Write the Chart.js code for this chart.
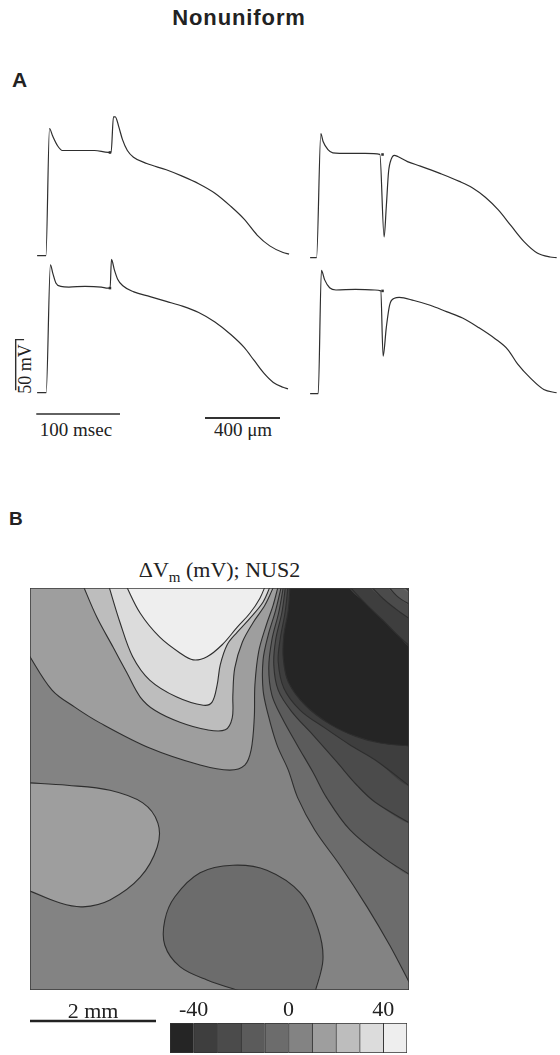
<!DOCTYPE html>
<html>
<head>
<meta charset="utf-8">
<title>Nonuniform</title>
<script src="https://cdn.jsdelivr.net/npm/chart.js@4.4.1/dist/chart.umd.min.js"></script>
<style>
    html, body { margin: 0; padding: 0; background: #fff; }
    body { width: 560px; height: 1055px; position: relative; overflow: hidden; }
    canvas { position: absolute; }
    .lbl { position: absolute; white-space: nowrap; color: #222; line-height: 1; }
    .serif { font-family: "Liberation Serif", "DejaVu Serif", serif; }
    .sans { font-family: "Liberation Sans", Arial, sans-serif; font-weight: bold; }
</style>
</head>
<body>
<div class="lbl sans" style="left:0;width:478px;text-align:center;top:7px;font-size:22px;letter-spacing:0.9px;">Nonuniform</div>
<div class="lbl sans" style="left:12px;top:69px;font-size:21px;">A</div>
<div class="lbl sans" style="left:9px;top:509px;font-size:19px;">B</div>

<div class="lbl serif" style="left:16px;width:120px;text-align:center;top:420px;font-size:19px;">100 msec</div>
<div class="lbl serif" style="left:183px;width:120px;text-align:center;top:420px;font-size:19px;">400 &mu;m</div>
<div style="position:absolute;left:205px;top:417px;width:75px;height:1.5px;background:#333;"></div>
<div class="lbl serif" style="left:-5px;width:60px;text-align:center;top:360px;font-size:18px;transform:rotate(-90deg);">50 mV</div>

<div class="lbl serif" style="left:30px;width:379px;text-align:center;top:559px;font-size:22px;line-height:22px;">&Delta;V<span style="font-size:15px;position:relative;top:5px;">m</span> (mV); NUS2</div>

<script>
// Panel A: membrane potential traces (time in msec, potential in mV)
const tlTime = [0, 10.5, 14.8, 18.6, 24.4, 30.2, 50, 68.6, 84.9, 88.4, 91.2, 93.4, 97.5, 102, 107.8, 115.1, 131, 154.3, 173.3, 193, 212.4, 231.4, 247.3, 262.8, 277.9, 293.8, 301];
const tlVolt = [-85, -85, 40.7, 33.2, 23.7, 19.0, 19.0, 19.0, 17.1, 17.1, 52.3, 52.3, 42.6, 29.7, 19.0, 12.4, 6.1, -0.1, -6.4, -13.9, -23.3, -36.3, -48.9, -64.6, -75.3, -81.9, -83.5];

const trTime = [0, 7.7, 12.8, 15.5, 21.3, 27.1, 46.5, 65.8, 83.3, 88.4, 91, 93.7, 96.9, 100.7, 104.7, 116.3, 131.7, 155, 178.3, 193.7, 209.3, 224.8, 240.2, 255.8, 271.3, 286.7, 294.5];
const trVolt = [-85, -85, 37.6, 29.8, 21.8, 18.7, 18.1, 18.1, 17.1, -64.5, -34.7, -0.1, 12.4, 16.2, 15.0, 10.0, 5.5, -1.7, -9.6, -15.9, -25.3, -37.8, -53.6, -69.3, -80.3, -84.3, -85];

const blTime = [0, 10.8, 15.9, 18.6, 22.4, 28.3, 38, 57.3, 76.7, 84.5, 87.2, 88.8, 92.2, 96.2, 102, 115.5, 134.9, 154.3, 173.6, 193, 212.4, 231.7, 247.3, 259, 270.6, 282.2, 293.8, 299.7];
const blVolt = [-85, -85, 41.4, 33.5, 23.5, 20.1, 19.4, 20.1, 19.4, 18.4, 18.4, 46.7, 36.6, 27.2, 21, 14.7, 10, 5.2, 0.5, -5.8, -15.2, -27.8, -40.3, -52.9, -65.5, -74.9, -79.6, -81.2];

const brTime = [0, 9.7, 13.5, 17.4, 23.3, 30.9, 54.2, 77.4, 84.4, 87.2, 91, 94.9, 100.7, 106.5, 124, 143.4, 162.8, 182.1, 201.5, 220.9, 236.4, 248, 263.5, 279.1, 294.5];
const brVolt = [-85, -85, 36.9, 27.5, 19.7, 17.5, 18.1, 17.5, 16.6, -47.9, -19.7, 2.4, 9.3, 10.2, 7.1, 2.4, -3.9, -10.2, -19.7, -30.6, -41.6, -55.8, -69.9, -80.9, -84.1];

// S2 stimulus marks (tl, tr, bl, br)
const stimTime = [87, 86.5, 87, 86.5];
const stimVolt = [17, 17, 18.4, 16.6];

// Scale bars
const timeBarMs = 100;
const voltBarMv = 50;
const mapBarMm = 2;

// Panel B: contour lines of the map, [x mm, y mm]
const mapWidth = 6.016;
const mapHeight = 6.381;

const contour40 = [[1.51, 6.45], [1.75, 5.98], [2.06, 5.60], [2.38, 5.35], [2.59, 5.24], [2.81, 5.29], [3.05, 5.48], [3.29, 5.76], [3.49, 5.98], [3.65, 6.22], [3.75, 6.45]];
const contour30 = [[1.24, 6.45], [1.43, 5.83], [1.63, 5.29], [1.90, 4.92], [2.33, 4.65], [2.75, 4.52], [2.89, 4.57], [2.97, 4.84], [3.02, 5.16], [3.13, 5.48], [3.29, 5.68], [3.49, 5.90], [3.70, 6.16], [3.83, 6.45]];
const contour20 = [[0.83, 6.45], [1.06, 5.92], [1.32, 5.44], [1.54, 5.03], [1.75, 4.65], [1.98, 4.44], [2.38, 4.25], [2.81, 4.13], [3.10, 4.13], [3.21, 4.32], [3.22, 4.68], [3.25, 5.11], [3.37, 5.52], [3.54, 5.83], [3.73, 6.11], [3.89, 6.45]];
const contour10 = [[-0.05, 5.37], [0.35, 4.76], [0.71, 4.49], [1.11, 4.24], [1.90, 3.84], [2.70, 3.57], [3.17, 3.49], [3.41, 3.57], [3.51, 3.81], [3.56, 4.32], [3.57, 4.84], [3.63, 5.37], [3.75, 5.79], [3.86, 6.11], [3.95, 6.45]];
const contour10Blob = [[-0.05, 3.29], [0.59, 3.25], [1.27, 3.17], [1.79, 2.97], [2.03, 2.65], [2.02, 2.27], [1.75, 1.79], [1.27, 1.43], [0.84, 1.32], [0.48, 1.38], [-0.05, 1.59]];
const contour0 = [[4.00, 6.45], [3.90, 6.03], [3.78, 5.63], [3.70, 5.24], [3.70, 4.76], [3.78, 4.37], [3.92, 3.89], [4.10, 3.49], [4.25, 3.05], [4.52, 2.54], [4.92, 1.98], [5.35, 1.32], [5.71, 0.71], [6.00, 0.16], [6.06, 0.05]];
const contour0Blob = [[3.44, -0.05], [2.81, 0.16], [2.38, 0.37], [2.14, 0.71], [2.14, 1.11], [2.30, 1.48], [2.70, 1.86], [3.22, 1.98], [3.76, 1.90], [4.29, 1.54], [4.57, 0.98], [4.65, 0.48], [4.52, -0.05]];
const contourM10 = [[4.03, 6.45], [3.95, 6.00], [3.84, 5.56], [3.79, 5.11], [3.84, 4.68], [4.00, 4.32], [4.24, 3.89], [4.49, 3.46], [4.71, 3.05], [5.08, 2.54], [5.60, 2.11], [6.06, 1.81]];
const contourM20 = [[4.06, 6.45], [4.00, 6.00], [3.90, 5.56], [3.87, 5.16], [3.94, 4.76], [4.16, 4.41], [4.49, 4.05], [4.87, 3.62], [5.19, 3.25], [5.48, 2.98], [6.06, 2.63]];
const contourM30 = [[4.10, 6.45], [4.05, 6.00], [3.97, 5.56], [3.94, 5.21], [4.03, 4.79], [4.29, 4.44], [4.68, 4.16], [5.08, 3.89], [5.48, 3.65], [6.06, 3.21]];
const contourM40 = [[4.13, 6.45], [4.10, 6.03], [4.03, 5.63], [4.02, 5.27], [4.10, 4.89], [4.37, 4.52], [4.76, 4.22], [5.16, 4.03], [5.56, 3.92], [6.06, 3.87]];
// top right corner
const contourM10Corner = [[5.89, 6.45], [6.06, 6.29]];
const contourM20Corner = [[5.65, 6.45], [5.84, 6.24], [6.06, 6.10]];
const contourM30Corner = [[5.37, 6.45], [5.63, 6.19], [5.87, 6.00], [6.06, 5.87]];
const contourM40Corner = [[5.03, 6.45], [5.32, 6.14], [5.60, 5.87], [5.87, 5.60], [6.06, 5.43]];

// Colour bar (mV)
const colorbarCenters = [-45, -35, -25, -15, -5, 5, 15, 25, 35, 45];
const colorbarTicks = [-40, 0, 40];

// Styles
const INK = '#2e2e2e';
const bandGrays = ['#252525', '#3e3e3e', '#4b4b4b', '#5b5b5b', '#6c6c6c', '#838383', '#9e9e9e', '#bdbdbd', '#dcdcdc', '#eeeeee'];
const TENSION = 0.35;
const OUT = 0.6;

// Create an absolute positioned canvas
function addCanvas(left, top, width, height) {
    const c = document.createElement('canvas');
    c.width = width;
    c.height = height;
    c.style.left = left + 'px';
    c.style.top = top + 'px';
    c.style.width = width + 'px';
    c.style.height = height + 'px';
    document.body.appendChild(c);
    return c;
}

function toPoints(arr) {
    return arr.map(p => ({ x: p[0], y: p[1] }));
}

// One trace chart (ms / mV)
function makeTraceChart(left, top, time, volt, k, extraSets) {
    const canvas = addCanvas(left, top, 301, 182);
    const datasets = [
        {
            data: time.map((t, i) => ({ x: t, y: volt[i] })),
            borderColor: INK,
            borderWidth: 1.2,
            pointRadius: 0,
            cubicInterpolationMode: 'monotone',
            fill: false
        },
        {
            data: [{ x: stimTime[k], y: stimVolt[k] }],
            showLine: false,
            pointStyle: 'rect',
            pointRadius: 1.8,
            backgroundColor: INK,
            borderWidth: 0
        }
    ].concat(extraSets || []);

    return new Chart(canvas, {
        type: 'line',
        data: { datasets: datasets },
        options: {
            animation: false,
            responsive: false,
            events: [],
            layout: { padding: 0 },
            plugins: { legend: { display: false }, tooltip: { enabled: false } },
            scales: {
                x: { type: 'linear', min: -30, max: 320, display: false },
                y: { min: -112, max: 60, display: false }
            }
        }
    });
}

// Scale bars live in the lower left panel
function scaleBarSets() {
    const t0 = -1, v0 = -106;
    const tv = -25.6, vTop = -32.5;
    return [
        {
            data: [{ x: t0, y: v0 }, { x: t0 + timeBarMs, y: v0 }],
            borderColor: INK, borderWidth: 1.4, pointRadius: 0, tension: 0, fill: false
        },
        {
            data: [{ x: tv + 10, y: vTop }, { x: tv, y: vTop }, { x: tv, y: vTop - voltBarMv }],
            borderColor: INK, borderWidth: 1.4, pointRadius: 0, tension: 0, fill: false
        }
    ];
}

// Fill polygons for the contour map
function closeTop(c) {
    const a = c[0], b = c[c.length - 1];
    return c.concat([[b[0], mapHeight + OUT], [a[0], mapHeight + OUT]]);
}
function closeLeftTop(c) {
    const a = c[0], b = c[c.length - 1];
    return c.concat([[b[0], mapHeight + OUT], [-OUT, mapHeight + OUT], [-OUT, a[1]]]);
}
function closeLeft(c) {
    const a = c[0], b = c[c.length - 1];
    return c.concat([[-OUT, b[1]], [-OUT, a[1]]]);
}
function closeBottom(c) {
    const a = c[0], b = c[c.length - 1];
    return c.concat([[b[0], -OUT], [a[0], -OUT]]);
}
function closeTopRight(c) {
    const a = c[0], b = c[c.length - 1];
    return c.concat([[mapWidth + OUT, b[1]], [mapWidth + OUT, mapHeight + OUT], [a[0], mapHeight + OUT]]);
}
// band between a lower contour (top -> right) and a corner contour (top -> right)
function closeBand(lower, corner) {
    const a0 = lower[0], a1 = lower[lower.length - 1];
    const b0 = corner[0], b1 = corner[corner.length - 1];
    return lower.concat([[mapWidth + OUT, a1[1]], [mapWidth + OUT, b1[1]]])
        .concat(corner.slice().reverse())
        .concat([[b0[0], mapHeight + OUT], [a0[0], mapHeight + OUT]]);
}

function fillSet(poly, band) {
    return {
        data: toPoints(poly),
        fill: 'shape',
        backgroundColor: bandGrays[band],
        borderColor: 'rgba(0,0,0,0)',
        borderWidth: 0,
        pointRadius: 0,
        tension: TENSION
    };
}

function lineSet(c) {
    return {
        data: toPoints(c),
        fill: false,
        borderColor: INK,
        borderWidth: 1.1,
        pointRadius: 0,
        tension: TENSION
    };
}

// 2 mm scale bar under the map
const mmBarPlugin = {
    id: 'mmBar',
    afterDraw(chart) {
        const { ctx, chartArea, scales } = chart;
        const x0 = scales.x.getPixelForValue(0);
        const x1 = scales.x.getPixelForValue(mapBarMm);
        ctx.save();
        ctx.strokeStyle = '#222';
        ctx.lineWidth = 2.5;
        ctx.beginPath();
        ctx.moveTo(x0, chartArea.bottom + 31);
        ctx.lineTo(x1, chartArea.bottom + 31);
        ctx.stroke();
        ctx.fillStyle = '#222';
        ctx.font = '22px "Liberation Serif"';
        ctx.textAlign = 'center';
        ctx.fillText(mapBarMm + ' mm', (x0 + x1) / 2, chartArea.bottom + 28);
        ctx.restore();
    }
};

function makeMapChart() {
    const canvas = addCanvas(28, 586, 383, 452);
    const rect = [[0, 0], [mapWidth, 0], [mapWidth, mapHeight], [0, mapHeight], [0, 0]];

    // painted bottom to top
    const layers = [
        Object.assign(fillSet(rect, 5), { tension: 0 }),
        fillSet(closeLeftTop(contour10), 6),
        fillSet(closeLeft(contour10Blob), 6),
        fillSet(closeTop(contour20), 7),
        fillSet(closeTop(contour30), 8),
        fillSet(closeTop(contour40), 9),
        fillSet(closeTopRight(contour0), 4),
        fillSet(closeBottom(contour0Blob), 4),
        fillSet(closeBand(contourM10, contourM10Corner), 3),
        fillSet(closeBand(contourM20, contourM20Corner), 2),
        fillSet(closeBand(contourM30, contourM30Corner), 1),
        fillSet(closeBand(contourM40, contourM40Corner), 0)
    ];
    [contour40, contour30, contour20, contour10, contour10Blob, contour0, contour0Blob,
     contourM10, contourM20, contourM30, contourM40,
     contourM10Corner, contourM20Corner, contourM30Corner, contourM40Corner].forEach(c => {
        layers.push(lineSet(c));
    });
    layers.push({
        data: toPoints(rect), fill: false, borderColor: '#3a3a3a', borderWidth: 1.5, pointRadius: 0, tension: 0
    });

    // Chart.js draws dataset 0 last (on top), so reverse
    const datasets = layers.slice().reverse();

    return new Chart(canvas, {
        type: 'line',
        data: { datasets: datasets },
        options: {
            animation: false,
            responsive: false,
            events: [],
            elements: { line: { capBezierPoints: false } },
            layout: { padding: { left: 2, right: 2, top: 2, bottom: 48 } },
            plugins: { legend: { display: false }, tooltip: { enabled: false } },
            scales: {
                x: { type: 'linear', min: 0, max: mapWidth, display: false },
                y: { type: 'linear', min: 0, max: mapHeight, display: false }
            }
        },
        plugins: [mmBarPlugin]
    });
}

function makeColorbar() {
    const canvas = addCanvas(165, 995, 247, 60);
    return new Chart(canvas, {
        type: 'bar',
        data: {
            datasets: [{
                data: colorbarCenters.map(v => ({ x: v, y: 1 })),
                backgroundColor: bandGrays,
                borderColor: '#333',
                borderWidth: ctx => ({ top: 1, bottom: 1, left: 1, right: ctx.dataIndex === colorbarCenters.length - 1 ? 1 : 0 }),
                borderSkipped: false,
                barPercentage: 1,
                categoryPercentage: 1
            }]
        },
        options: {
            animation: false,
            responsive: false,
            events: [],
            layout: { padding: { left: 5, right: 5, top: 0, bottom: 2 } },
            plugins: { legend: { display: false }, tooltip: { enabled: false } },
            scales: {
                x: {
                    type: 'linear', position: 'top', min: -50, max: 50, offset: false,
                    grid: { display: false, drawTicks: false },
                    border: { display: false },
                    afterBuildTicks: s => { s.ticks = colorbarTicks.map(v => ({ value: v })); },
                    afterFit: s => { s.height = 28; },
                    ticks: {
                        font: { family: 'Liberation Serif', size: 22 },
                        color: '#222', padding: 0, maxRotation: 0, autoSkip: false
                    }
                },
                y: { display: false, min: 0, max: 1 }
            }
        }
    });
}

document.addEventListener('DOMContentLoaded', function() {
    makeTraceChart(8.2, 104.9, tlTime, tlVolt, 0);
    makeTraceChart(280.9, 106.6, trTime, trVolt, 1);
    makeTraceChart(8.2, 242.3, blTime, blVolt, 2, scaleBarSets());
    makeTraceChart(280.9, 242.6, brTime, brVolt, 3);
    makeMapChart();
    makeColorbar();
});
</script>
</body>
</html>
